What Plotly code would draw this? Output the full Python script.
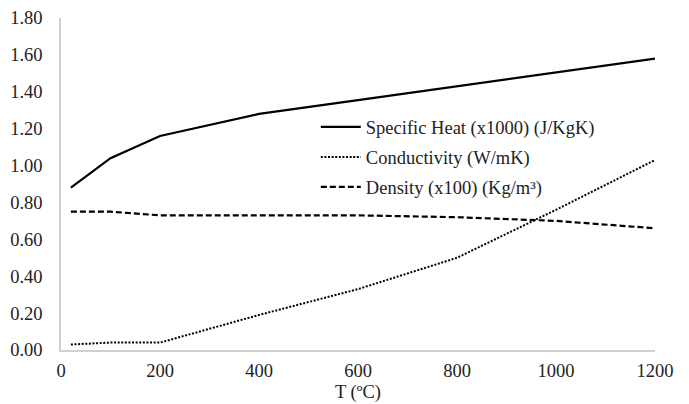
import plotly.graph_objects as go

# Temperature points (°C)
temperature = [20, 100, 200, 400, 600, 800, 1000, 1200]

# Material properties (scaled)
specific_heat = [0.88, 1.04, 1.16, 1.28, 1.355, 1.43, 1.505, 1.58]
conductivity = [0.03, 0.04, 0.04, 0.19, 0.33, 0.50, 0.76, 1.03]
density = [0.75, 0.75, 0.73, 0.73, 0.73, 0.72, 0.70, 0.66]

series_names = [
    "Specific Heat (x1000) (J/KgK)",
    "Conductivity (W/mK)",
    "Density (x100) (Kg/m³)",
]

x_ticks = [0, 200, 400, 600, 800, 1000, 1200]
y_ticks = [0.0, 0.2, 0.4, 0.6, 0.8, 1.0, 1.2, 1.4, 1.6, 1.8]
x_title = "T (ºC)"

font_family = "Liberation Serif, Times New Roman, serif"
font_size = 18.5

fig = go.Figure()
fig.add_trace(go.Scatter(x=temperature, y=specific_heat, mode="lines", name=series_names[0],
                         legendgroup="g1",
                         line=dict(color="black", width=2.2, dash="solid")))
fig.add_trace(go.Scatter(x=temperature, y=conductivity, mode="lines", name=series_names[1],
                         legendgroup="g2",
                         line=dict(color="black", width=2.0, dash="2px,1.6px")))
fig.add_trace(go.Scatter(x=temperature, y=density, mode="lines", name=series_names[2],
                         legendgroup="g3",
                         line=dict(color="black", width=2.2, dash="6px,3px")))

# x-axis title sitting at the bottom edge, below the tick labels
fig.add_annotation(text=x_title, xref="paper", yref="paper", x=0.5, y=-0.162,
                   xanchor="center", yanchor="bottom", showarrow=False, borderpad=0,
                   font=dict(size=font_size, family=font_family, color="#222222"))

fig.update_layout(
    width=689, height=404,
    margin=dict(l=61, r=34, t=18, b=54),
    paper_bgcolor="white", plot_bgcolor="white",
    font=dict(family=font_family, size=font_size, color="#222222"),
    showlegend=True,
    legend=dict(x=0.429, y=0.728, xanchor="left", yanchor="top",
                bgcolor="rgba(0,0,0,0)",
                font=dict(size=font_size, family=font_family, color="#222222"),
                itemwidth=40, tracegroupgap=3),
    xaxis=dict(range=[0, 1200], tickvals=x_ticks, ticktext=[str(v) for v in x_ticks],
               showgrid=False, zeroline=False, showline=True, linecolor="#d0d0d0", linewidth=1.5,
               ticks="", ticklabelstandoff=3, tickfont=dict(size=font_size), automargin=False),
    yaxis=dict(range=[0, 1.8], tickvals=y_ticks, ticktext=[f"{v:.2f}" for v in y_ticks],
               showgrid=False, zeroline=False, showline=True, linecolor="#d0d0d0", linewidth=1.5,
               ticks="", ticklabelstandoff=13, tickfont=dict(size=font_size), automargin=False),
)

fig.write_html("out.html")
